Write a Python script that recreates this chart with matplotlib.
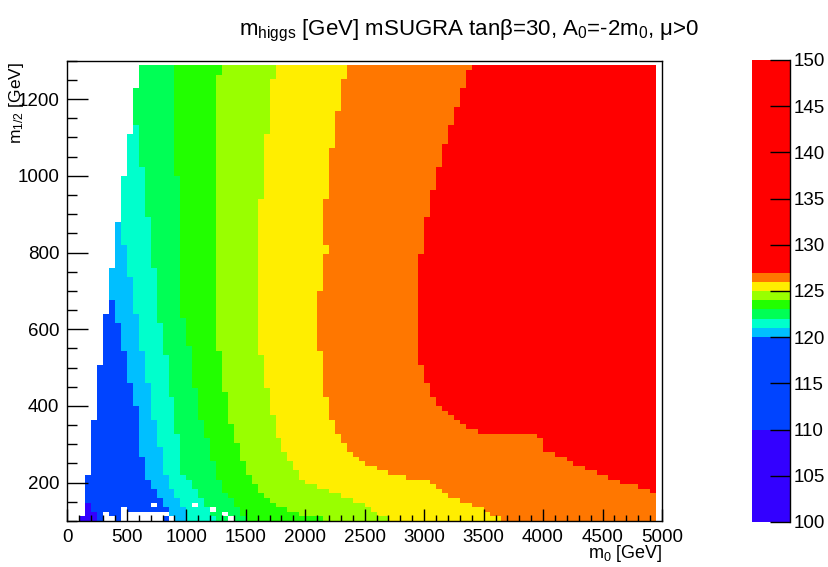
import numpy as np
import matplotlib
matplotlib.use("Agg")
import matplotlib.pyplot as plt
import matplotlib.cm as cm
from matplotlib.colors import ListedColormap, BoundaryNorm
from matplotlib.ticker import MultipleLocator

plt.rcParams['font.family'] = ['Liberation Sans', 'DejaVu Sans']
plt.rcParams['mathtext.fontset'] = 'custom'
plt.rcParams['mathtext.rm'] = 'Liberation Sans'
plt.rcParams['mathtext.it'] = 'Liberation Sans:italic'

# higgs mass contour levels [GeV] and their fill colours
levels = [100, 110, 120, 121, 122, 123, 124, 125, 126, 127, 150]
colors = ['#3300ff', '#0044ff', '#00bfff', '#00ffcc', '#00ff55',
          '#22ff00', '#99ff00', '#ffee00', '#ff7700', '#ff0000']

# scan grid: m0 in 50 GeV bins, m1/2 in 12 GeV bins
m0_edges = np.arange(0, 4951, 50)
mhalf_edges = np.arange(100, 1289, 12)

# level boundaries as steps: (m1/2 from, m0 of boundary); 0 = band closed
edge_valid = [(100, 100), (112, 150), (220, 200), (364, 250), (508, 300),
              (640, 350), (760, 400), (880, 450), (1000, 500), (1108, 550),
              (1228, 600)]
b120 = [(100, 900), (112, 850), (136, 800), (160, 750), (184, 700),
        (208, 650), (268, 600), (400, 550), (460, 500), (544, 450),
        (616, 400), (676, 0)]
b121 = [(100, 1000), (136, 950), (160, 900), (184, 850), (220, 800),
        (292, 750), (364, 700), (460, 650), (544, 600), (640, 550),
        (736, 500), (820, 450), (880, 0)]
b122 = [(100, 1250), (112, 1200), (136, 1150), (160, 1100), (184, 1050),
        (208, 1000), (220, 950), (328, 900), (424, 850), (532, 800),
        (616, 750), (760, 700), (892, 650), (1024, 600), (1132, 0)]
b123 = [(100, 1500), (112, 1450), (136, 1400), (160, 1350), (172, 1300),
        (208, 1250), (256, 1200), (316, 1150), (364, 1100), (448, 1050),
        (556, 1000), (628, 950), (1000, 900)]
b124 = [(100, 2150), (112, 1950), (124, 1850), (136, 1750), (148, 1700),
        (160, 1650), (172, 1600), (196, 1550), (220, 1500), (256, 1450),
        (300, 1400), (352, 1350), (436, 1300), (544, 1250), (1264, 1300)]
b125 = [(100, 2700), (112, 2600), (124, 2550), (136, 2500), (148, 2400),
        (160, 2300), (172, 2200), (184, 2100), (196, 2000), (208, 1950),
        (232, 1900), (256, 1850), (280, 1800), (316, 1750), (376, 1700),
        (448, 1650), (532, 1600), (940, 1650), (1108, 1700), (1252, 1750)]
b126 = [(100, 3650), (112, 3550), (124, 3500), (136, 3400), (148, 3300),
        (160, 3200), (172, 3150), (184, 3100), (196, 3050), (208, 2850),
        (220, 2700), (232, 2600), (244, 2500), (256, 2450), (268, 2400),
        (280, 2350), (304, 2300), (328, 2250), (364, 2200), (424, 2150),
        (544, 2100), (700, 2150), (796, 2200), (820, 2150), (940, 2200),
        (1072, 2250), (1168, 2300), (1252, 2350)]
b127 = [(100, 5000), (172, 4900), (184, 4800), (196, 4650), (208, 4550),
        (220, 4450), (232, 4350), (244, 4250), (256, 4200), (268, 4100),
        (280, 4000), (316, 3950), (328, 3450), (340, 3350), (352, 3300),
        (364, 3250), (376, 3200), (388, 3150), (400, 3100), (424, 3050),
        (460, 3000), (508, 2950), (796, 3000), (892, 3050), (964, 3100),
        (1024, 3150), (1084, 3200), (1132, 3250), (1180, 3300),
        (1228, 3350), (1276, 3400)]

# failed scan points (m0, m1/2) and points below 110 GeV
no_solution = [(700, 136), (1050, 136), (1200, 124), (1300, 112), (1350, 100),
               (300, 100), (300, 112), (350, 100), (450, 100), (450, 112),
               (450, 124), (500, 100), (500, 112), (550, 100), (550, 112),
               (600, 100), (600, 112), (650, 100), (650, 112), (700, 100),
               (700, 112), (750, 100), (750, 112), (800, 112), (850, 100)]
light_higgs = [(100, 100), (150, 100), (200, 100), (150, 112), (200, 112),
               (150, 124), (150, 136)]


def step_value(steps, y):
    val = steps[0][1]
    for lo, x in steps:
        if y >= lo:
            val = x
    return val


band_mid = [(levels[i] + levels[i + 1]) / 2. for i in range(len(levels) - 1)]
bounds = [b120, b121, b122, b123, b124, b125, b126, b127]

mass = np.full((len(mhalf_edges) - 1, len(m0_edges) - 1), np.nan)
for j, y in enumerate(mhalf_edges[:-1]):
    yc = y + 6
    left = step_value(edge_valid, yc)
    bx = [step_value(b, yc) for b in bounds]
    for i, x in enumerate(m0_edges[:-1]):
        if x < left:
            continue
        idx = 1 + sum(1 for b in bx if b <= x)
        mass[j, i] = band_mid[idx]

for x, y in no_solution:
    mass[(y - 100) // 12, x // 50] = np.nan
for x, y in light_higgs:
    mass[(y - 100) // 12, x // 50] = band_mid[0]

cmap = ListedColormap(colors)
norm = BoundaryNorm(levels, cmap.N)

fig = plt.figure(figsize=(8.29, 5.67), dpi=100)
ax = fig.add_axes([0.0814, 0.0811, 0.7171, 0.8118])
ax.pcolormesh(m0_edges, mhalf_edges, mass, cmap=cmap, norm=norm,
              shading='flat', edgecolors='none', antialiased=False)
ax.set_xlim(0, 5000)
ax.set_ylim(100, 1300)

ax.xaxis.set_major_locator(MultipleLocator(500))
ax.xaxis.set_minor_locator(MultipleLocator(100))
ax.yaxis.set_major_locator(MultipleLocator(200))
ax.yaxis.set_minor_locator(MultipleLocator(50))
ax.tick_params(axis='both', which='both', direction='in', labelsize=13.5,
               width=1, pad=6)
ax.tick_params(axis='x', which='major', length=8.4)
ax.tick_params(axis='x', which='minor', length=4.3)
ax.tick_params(axis='y', which='major', length=15)
ax.tick_params(axis='y', which='minor', length=7.2)
for s in ax.spines.values():
    s.set_linewidth(1)

fig.text(0.566, 0.945,
         r'm$_{\mathrm{higgs}}$ [GeV] mSUGRA tanβ=30, A$_{\mathrm{0}}$=-2m$_{\mathrm{0}}$, μ>0',
         ha='center', va='center', fontsize=16)
fig.text(0.7986, 0.024, r'm$_{\mathrm{0}}$ [GeV]', ha='right', va='center',
         fontsize=13)
fig.text(0.020, 0.8907, r'm$_{\mathrm{1/2}}$ [GeV]', ha='center', va='top',
         rotation=90, fontsize=12.5)

# palette axis
cax = fig.add_axes([0.9071, 0.0794, 0.0458, 0.8148])
cb = fig.colorbar(cm.ScalarMappable(norm=norm, cmap=cmap), cax=cax,
                  spacing='proportional', ticks=range(100, 151, 5))
cb.outline.set_visible(False)
cax.minorticks_off()
cax.spines['right'].set_visible(True)
cax.spines['right'].set_linewidth(1)
cax.tick_params(axis='y', which='major', direction='in', length=14.4,
                width=1, labelsize=13.5, pad=3)

fig.savefig('out.png', dpi=100)
